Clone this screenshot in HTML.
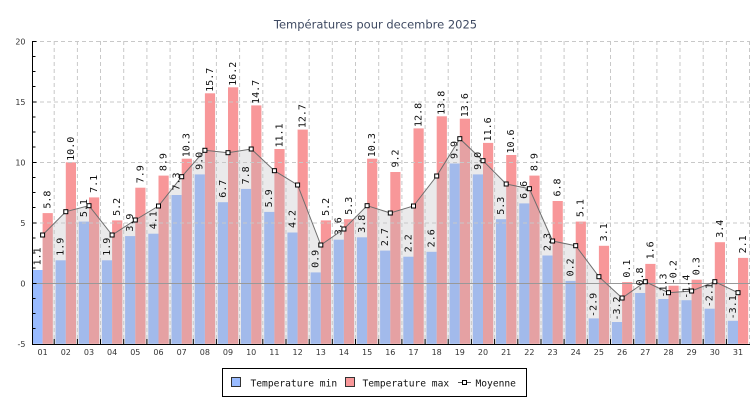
<!DOCTYPE html>
<html><head><meta charset="utf-8"><style>
html,body{margin:0;padding:0;background:#fff;}
svg{display:block;}
.t{font-family:"DejaVu Sans","Liberation Sans",sans-serif;font-size:8px;fill:#333;}
.v{font-family:"DejaVu Sans Mono","Liberation Mono",monospace;font-size:10px;fill:#111;text-anchor:middle;}
.lg{font-family:"DejaVu Sans Mono","Liberation Mono",monospace;font-size:9.6px;fill:#111;}
</style></head><body>
<svg width="750" height="400" viewBox="0 0 750 400" xmlns="http://www.w3.org/2000/svg">
<rect x="0" y="0" width="750" height="400" fill="#fff"/>
<text x="375.5" y="28.5" text-anchor="middle" font-family="DejaVu Sans, Liberation Sans, sans-serif" font-size="11.5" fill="#3f4a62">Températures pour decembre 2025</text>

<!-- bars blue -->
<g fill="#99bbff">
<rect x="32.6" y="270.0" width="10.0" height="73.8"/>
<rect x="55.6" y="260.3" width="10.2" height="83.5"/>
<rect x="78.8" y="221.6" width="10.2" height="122.2"/>
<rect x="101.9" y="260.3" width="10.2" height="83.5"/>
<rect x="125.1" y="236.1" width="10.2" height="107.7"/>
<rect x="148.3" y="233.7" width="10.2" height="110.1"/>
<rect x="171.5" y="195.0" width="10.2" height="148.8"/>
<rect x="194.7" y="174.4" width="10.2" height="169.4"/>
<rect x="217.8" y="202.2" width="10.2" height="141.6"/>
<rect x="241.0" y="188.9" width="10.2" height="154.9"/>
<rect x="264.2" y="211.9" width="10.2" height="131.9"/>
<rect x="287.4" y="232.5" width="10.2" height="111.3"/>
<rect x="310.6" y="272.4" width="10.2" height="71.4"/>
<rect x="333.7" y="239.7" width="10.2" height="104.1"/>
<rect x="356.9" y="237.3" width="10.2" height="106.5"/>
<rect x="380.1" y="250.6" width="10.2" height="93.2"/>
<rect x="403.3" y="256.7" width="10.2" height="87.1"/>
<rect x="426.5" y="251.8" width="10.2" height="92.0"/>
<rect x="449.6" y="163.5" width="10.2" height="180.3"/>
<rect x="472.8" y="174.4" width="10.2" height="169.4"/>
<rect x="496.0" y="219.2" width="10.2" height="124.6"/>
<rect x="519.2" y="203.4" width="10.2" height="140.4"/>
<rect x="542.4" y="255.5" width="10.2" height="88.3"/>
<rect x="565.5" y="280.9" width="10.2" height="62.9"/>
<rect x="588.7" y="318.4" width="10.2" height="25.4"/>
<rect x="611.9" y="322.0" width="10.2" height="21.8"/>
<rect x="635.1" y="293.0" width="10.2" height="50.8"/>
<rect x="658.3" y="299.0" width="10.2" height="44.8"/>
<rect x="681.4" y="300.2" width="10.2" height="43.6"/>
<rect x="704.6" y="308.7" width="10.2" height="35.1"/>
<rect x="727.8" y="320.8" width="10.2" height="23.0"/>
</g>
<!-- bars red -->
<g fill="#f89799">
<rect x="42.6" y="213.1" width="10.2" height="130.7"/>
<rect x="65.8" y="162.3" width="10.2" height="181.5"/>
<rect x="89.0" y="197.4" width="10.2" height="146.4"/>
<rect x="112.1" y="220.4" width="10.2" height="123.4"/>
<rect x="135.3" y="187.7" width="10.2" height="156.1"/>
<rect x="158.5" y="175.6" width="10.2" height="168.2"/>
<rect x="181.7" y="158.7" width="10.2" height="185.1"/>
<rect x="204.9" y="93.3" width="10.2" height="250.5"/>
<rect x="228.0" y="87.3" width="10.2" height="256.5"/>
<rect x="251.2" y="105.4" width="10.2" height="238.4"/>
<rect x="274.4" y="149.0" width="10.2" height="194.8"/>
<rect x="297.6" y="129.6" width="10.2" height="214.2"/>
<rect x="320.8" y="220.4" width="10.2" height="123.4"/>
<rect x="343.9" y="219.2" width="10.2" height="124.6"/>
<rect x="367.1" y="158.7" width="10.2" height="185.1"/>
<rect x="390.3" y="172.0" width="10.2" height="171.8"/>
<rect x="413.5" y="128.4" width="10.2" height="215.4"/>
<rect x="436.7" y="116.3" width="10.2" height="227.5"/>
<rect x="459.8" y="118.7" width="10.2" height="225.1"/>
<rect x="483.0" y="142.9" width="10.2" height="200.9"/>
<rect x="506.2" y="155.0" width="10.2" height="188.8"/>
<rect x="529.4" y="175.6" width="10.2" height="168.2"/>
<rect x="552.6" y="201.0" width="10.2" height="142.8"/>
<rect x="575.7" y="221.6" width="10.2" height="122.2"/>
<rect x="598.9" y="245.8" width="10.2" height="98.0"/>
<rect x="622.1" y="282.1" width="10.2" height="61.7"/>
<rect x="645.3" y="263.9" width="10.2" height="79.9"/>
<rect x="668.5" y="285.7" width="10.2" height="58.1"/>
<rect x="691.6" y="279.7" width="10.2" height="64.1"/>
<rect x="714.8" y="242.2" width="10.2" height="101.6"/>
<rect x="738.0" y="257.9" width="10.2" height="85.9"/>
</g>

<!-- mean area -->
<polygon fill="rgb(185,185,190)" fill-opacity="0.3" points="42.6,343.8 42.6,235 65.8,211.7 89.0,205.7 112.1,235 135.3,220 158.5,206 181.7,176.7 204.9,150.3 228.0,152.7 251.2,149 274.4,170.7 297.6,185 320.8,245 343.9,229 367.1,205.7 390.3,213 413.5,206 436.7,176 459.8,138.7 483.0,160.7 506.2,184 529.4,188.7 552.6,241 575.7,245.7 598.9,276.7 622.1,298 645.3,281.7 668.5,292.7 691.6,291 714.8,281.7 738.0,292.7 738.0,343.8"/>

<!-- grid -->
<g stroke="#c8c8c8" stroke-width="1" stroke-dasharray="4,3" fill="none">
<path d="M33 41.5H750M33 102H750M33 162.5H750M33 223H750"/>
<path d="M54.2 41V344M77.4 41V344M100.5 41V344M123.7 41V344M146.9 41V344M170.1 41V344M193.3 41V344M216.4 41V344M239.6 41V344M262.8 41V344M286 41V344M309.2 41V344M332.3 41V344M355.5 41V344M378.7 41V344M401.9 41V344M425.1 41V344M448.2 41V344M471.4 41V344M494.6 41V344M517.8 41V344M541 41V344M564.1 41V344M587.3 41V344M610.5 41V344M633.7 41V344M656.9 41V344M680 41V344M703.2 41V344M726.4 41V344M749.5 41V344"/>
</g>
<path d="M33 283.5H750" stroke="#999" stroke-width="1"/>

<!-- mean line -->
<polyline fill="none" stroke="#6e6e6e" stroke-width="1" points="42.6,235 65.8,211.7 89.0,205.7 112.1,235 135.3,220 158.5,206 181.7,176.7 204.9,150.3 228.0,152.7 251.2,149 274.4,170.7 297.6,185 320.8,245 343.9,229 367.1,205.7 390.3,213 413.5,206 436.7,176 459.8,138.7 483.0,160.7 506.2,184 529.4,188.7 552.6,241 575.7,245.7 598.9,276.7 622.1,298 645.3,281.7 668.5,292.7 691.6,291 714.8,281.7 738.0,292.7"/>
<g fill="#fff" stroke="#000" stroke-width="1">
<rect x="40.6" y="233" width="4" height="4"/>
<rect x="63.8" y="209.7" width="4" height="4"/>
<rect x="87.0" y="203.7" width="4" height="4"/>
<rect x="110.1" y="233" width="4" height="4"/>
<rect x="133.3" y="218" width="4" height="4"/>
<rect x="156.5" y="204" width="4" height="4"/>
<rect x="179.7" y="174.7" width="4" height="4"/>
<rect x="202.9" y="148.3" width="4" height="4"/>
<rect x="226.0" y="150.7" width="4" height="4"/>
<rect x="249.2" y="147" width="4" height="4"/>
<rect x="272.4" y="168.7" width="4" height="4"/>
<rect x="295.6" y="183" width="4" height="4"/>
<rect x="318.8" y="243" width="4" height="4"/>
<rect x="341.9" y="227" width="4" height="4"/>
<rect x="365.1" y="203.7" width="4" height="4"/>
<rect x="388.3" y="211" width="4" height="4"/>
<rect x="411.5" y="204" width="4" height="4"/>
<rect x="434.7" y="174" width="4" height="4"/>
<rect x="457.8" y="136.7" width="4" height="4"/>
<rect x="481.0" y="158.7" width="4" height="4"/>
<rect x="504.2" y="182" width="4" height="4"/>
<rect x="527.4" y="186.7" width="4" height="4"/>
<rect x="550.6" y="239" width="4" height="4"/>
<rect x="573.7" y="243.7" width="4" height="4"/>
<rect x="596.9" y="274.7" width="4" height="4"/>
<rect x="620.1" y="296" width="4" height="4"/>
<rect x="643.3" y="279.7" width="4" height="4"/>
<rect x="666.5" y="290.7" width="4" height="4"/>
<rect x="689.6" y="289" width="4" height="4"/>
<rect x="712.8" y="279.7" width="4" height="4"/>
<rect x="736.0" y="290.7" width="4" height="4"/>
</g>

<!-- axes -->
<path d="M32.5 41V344.5M32 344.5H750" stroke="#000" stroke-width="1" fill="none"/>
<path stroke="#000" stroke-width="1" d="M32.5 41.5h4M32.5 56.5h3M32.5 71.5h3M32.5 86.5h3M32.5 102h4M32.5 117h3M32.5 132h3M32.5 147h3M32.5 162.5h4M32.5 177.5h3M32.5 192.5h3M32.5 207.5h3M32.5 223h4M32.5 238h3M32.5 253h3M32.5 268h3M32.5 283.5h4M32.5 298.5h3M32.5 313.5h3M32.5 328.5h3M54.2 344v-5M77.4 344v-5M100.5 344v-5M123.7 344v-5M146.9 344v-5M170.1 344v-5M193.3 344v-5M216.4 344v-5M239.6 344v-5M262.8 344v-5M286 344v-5M309.2 344v-5M332.3 344v-5M355.5 344v-5M378.7 344v-5M401.9 344v-5M425.1 344v-5M448.2 344v-5M471.4 344v-5M494.6 344v-5M517.8 344v-5M541 344v-5M564.1 344v-5M587.3 344v-5M610.5 344v-5M633.7 344v-5M656.9 344v-5M680 344v-5M703.2 344v-5M726.4 344v-5"/>

<!-- y labels -->
<g class="t" text-anchor="end">
<text x="25.5" y="44.3">20</text>
<text x="25.5" y="104.8">15</text>
<text x="25.5" y="165.3">10</text>
<text x="25.5" y="225.8">5</text>
<text x="25.5" y="286.3">0</text>
<text x="25.5" y="346.8">-5</text>
</g>
<!-- x labels -->
<g class="t" text-anchor="middle">
<text x="42.6" y="355">01</text><text x="65.8" y="355">02</text><text x="89.0" y="355">03</text><text x="112.1" y="355">04</text><text x="135.3" y="355">05</text><text x="158.5" y="355">06</text><text x="181.7" y="355">07</text><text x="204.9" y="355">08</text><text x="228.0" y="355">09</text><text x="251.2" y="355">10</text><text x="274.4" y="355">11</text><text x="297.6" y="355">12</text><text x="320.8" y="355">13</text><text x="343.9" y="355">14</text><text x="367.1" y="355">15</text><text x="390.3" y="355">16</text><text x="413.5" y="355">17</text><text x="436.7" y="355">18</text><text x="459.8" y="355">19</text><text x="483.0" y="355">20</text><text x="506.2" y="355">21</text><text x="529.4" y="355">22</text><text x="552.6" y="355">23</text><text x="575.7" y="355">24</text><text x="598.9" y="355">25</text><text x="622.1" y="355">26</text><text x="645.3" y="355">27</text><text x="668.5" y="355">28</text><text x="691.6" y="355">29</text><text x="714.8" y="355">30</text><text x="738.0" y="355">31</text>
</g>

<!-- value labels blue -->
<g class="v">
<text transform="translate(40.35,256.5) rotate(-90)">1.1</text>
<text transform="translate(63.55,246.8) rotate(-90)">1.9</text>
<text transform="translate(86.75,208.1) rotate(-90)">5.1</text>
<text transform="translate(109.85,246.8) rotate(-90)">1.9</text>
<text transform="translate(133.05,222.6) rotate(-90)">3.9</text>
<text transform="translate(156.25,220.2) rotate(-90)">4.1</text>
<text transform="translate(179.45,181.5) rotate(-90)">7.3</text>
<text transform="translate(202.65,160.9) rotate(-90)">9.0</text>
<text transform="translate(225.75,188.7) rotate(-90)">6.7</text>
<text transform="translate(248.95,175.4) rotate(-90)">7.8</text>
<text transform="translate(272.15,198.4) rotate(-90)">5.9</text>
<text transform="translate(295.35,219.0) rotate(-90)">4.2</text>
<text transform="translate(318.55,258.9) rotate(-90)">0.9</text>
<text transform="translate(341.65,226.2) rotate(-90)">3.6</text>
<text transform="translate(364.85,223.8) rotate(-90)">3.8</text>
<text transform="translate(388.05,237.1) rotate(-90)">2.7</text>
<text transform="translate(411.25,243.2) rotate(-90)">2.2</text>
<text transform="translate(434.45,238.3) rotate(-90)">2.6</text>
<text transform="translate(457.55,150.0) rotate(-90)">9.9</text>
<text transform="translate(480.75,160.9) rotate(-90)">9.0</text>
<text transform="translate(503.95,205.7) rotate(-90)">5.3</text>
<text transform="translate(527.15,189.9) rotate(-90)">6.6</text>
<text transform="translate(550.35,242.0) rotate(-90)">2.3</text>
<text transform="translate(573.45,267.4) rotate(-90)">0.2</text>
<text transform="translate(596.65,304.9) rotate(-90)">-2.9</text>
<text transform="translate(619.85,308.5) rotate(-90)">-3.2</text>
<text transform="translate(643.05,279.5) rotate(-90)">-0.8</text>
<text transform="translate(666.25,285.5) rotate(-90)">-1.3</text>
<text transform="translate(689.35,286.7) rotate(-90)">-1.4</text>
<text transform="translate(712.55,295.2) rotate(-90)">-2.1</text>
<text transform="translate(735.75,307.3) rotate(-90)">-3.1</text>
</g>
<!-- value labels red -->
<g class="v">
<text transform="translate(50.55,199.6) rotate(-90)">5.8</text>
<text transform="translate(73.75,148.8) rotate(-90)">10.0</text>
<text transform="translate(96.95,183.9) rotate(-90)">7.1</text>
<text transform="translate(120.05,206.9) rotate(-90)">5.2</text>
<text transform="translate(143.25,174.2) rotate(-90)">7.9</text>
<text transform="translate(166.45,162.1) rotate(-90)">8.9</text>
<text transform="translate(189.65,145.2) rotate(-90)">10.3</text>
<text transform="translate(212.85,79.8) rotate(-90)">15.7</text>
<text transform="translate(235.95,73.8) rotate(-90)">16.2</text>
<text transform="translate(259.15,91.9) rotate(-90)">14.7</text>
<text transform="translate(282.35,135.5) rotate(-90)">11.1</text>
<text transform="translate(305.55,116.1) rotate(-90)">12.7</text>
<text transform="translate(328.75,206.9) rotate(-90)">5.2</text>
<text transform="translate(351.85,205.7) rotate(-90)">5.3</text>
<text transform="translate(375.05,145.2) rotate(-90)">10.3</text>
<text transform="translate(398.25,158.5) rotate(-90)">9.2</text>
<text transform="translate(421.45,114.9) rotate(-90)">12.8</text>
<text transform="translate(444.65,102.8) rotate(-90)">13.8</text>
<text transform="translate(467.75,105.2) rotate(-90)">13.6</text>
<text transform="translate(490.95,129.4) rotate(-90)">11.6</text>
<text transform="translate(514.15,141.5) rotate(-90)">10.6</text>
<text transform="translate(537.35,162.1) rotate(-90)">8.9</text>
<text transform="translate(560.55,187.5) rotate(-90)">6.8</text>
<text transform="translate(583.65,208.1) rotate(-90)">5.1</text>
<text transform="translate(606.85,232.3) rotate(-90)">3.1</text>
<text transform="translate(630.05,268.6) rotate(-90)">0.1</text>
<text transform="translate(653.25,250.4) rotate(-90)">1.6</text>
<text transform="translate(676.45,272.2) rotate(-90)">-0.2</text>
<text transform="translate(699.55,266.2) rotate(-90)">0.3</text>
<text transform="translate(722.75,228.7) rotate(-90)">3.4</text>
<text transform="translate(745.95,244.4) rotate(-90)">2.1</text>
</g>

<!-- legend -->
<rect x="222.5" y="368.5" width="304" height="28" fill="#fff" stroke="#000" stroke-width="1"/>
<rect x="231.5" y="377.5" width="9" height="9" fill="#99bbff" stroke="#333" stroke-width="1"/>
<text class="lg" x="250.5" y="386.5">Temperature min</text>
<rect x="345.5" y="377.5" width="9" height="9" fill="#f89799" stroke="#333" stroke-width="1"/>
<text class="lg" x="362.5" y="386.5">Temperature max</text>
<path d="M458 382.5H471" stroke="#555" stroke-width="1"/>
<rect x="462.5" y="380.5" width="4" height="4" fill="#fff" stroke="#000" stroke-width="1"/>
<text class="lg" x="475.5" y="386.5">Moyenne</text>
</svg>
</body></html>
